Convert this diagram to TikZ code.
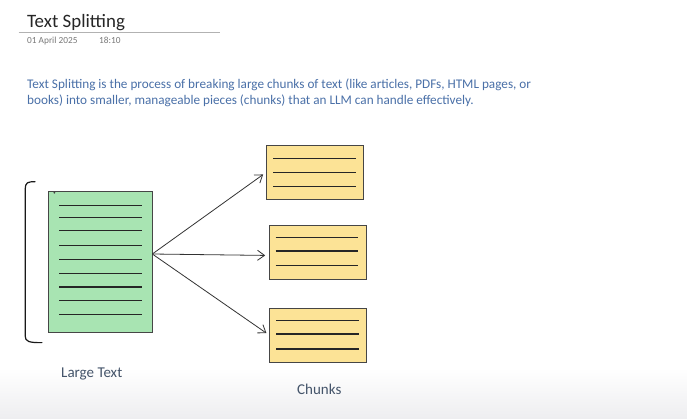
\documentclass[tikz,border=0pt]{standalone}
\usepackage{fontspec}
\setmainfont{Carlito}
\usetikzlibrary{arrows.meta}
\definecolor{paracol}{RGB}{74,112,168}
\definecolor{labcol}{RGB}{68,84,106}
\definecolor{greenfill}{RGB}{168,228,178}
\definecolor{yellowfill}{RGB}{252,227,150}
\definecolor{edgecol}{RGB}{70,70,70}
\definecolor{datecol}{RGB}{120,120,120}
\definecolor{bottomgray}{RGB}{238,238,240}
\tikzset{
  doc/.style={draw=edgecol, line width=0.9pt, fill=greenfill, rectangle, inner sep=0pt, anchor=north west},
  chunk/.style={draw=edgecol, line width=0.9pt, fill=yellowfill, rectangle, inner sep=0pt, anchor=north west, minimum width=97pt, minimum height=54pt},
  textline/.style={line width=1.2pt, draw=black!85},
  splitarrow/.style={line width=0.8pt, draw=black!80, -{Straight Barb[length=7pt,width=10pt,line width=0.8pt]}, shorten >=3.5pt},
  label/.style={text=labcol, font=\fontsize{15}{18}\selectfont, anchor=base west, inner sep=0pt},
}
\begin{document}
\begin{tikzpicture}[x=1pt,y=-1pt]
\useasboundingbox (0,0) rectangle (687,418);
\fill[white] (0,0) rectangle (687,418);
\shade[top color=white, bottom color=bottomgray] (0,368) rectangle (687,418);
% header
\node[anchor=base west, inner sep=0pt, text=black!85, font=\fontsize{18.9}{22}\selectfont] (title) at (27,27) {Text Splitting};
\draw[line width=0.8pt, draw=black!30] (18.5,32.7) -- (220,32.7);
\node[anchor=base west, inner sep=0pt, text=datecol, font=\fontsize{9.3}{11}\selectfont] (date) at (27,43.5) {01 April 2025};
\node[anchor=base west, inner sep=0pt, text=datecol, font=\fontsize{9.3}{11}\selectfont] (time) at (99,43.5) {18:10};
% paragraph (base anchor = last line)
\node[anchor=base west, inner sep=0pt, text=paracol, font=\fontsize{13.2}{16}\selectfont, align=left] (para) at (27,104)
  {Text Splitting is the process of breaking large chunks of text (like articles, PDFs, HTML pages, or\\books) into smaller, manageable pieces (chunks) that an LLM can handle effectively.};
% bracket
\draw[line width=1.2pt, draw=black!90, line cap=round] (35,181.8) .. controls (28,181.5) and (25.2,182.5) .. (25.2,189) -- (25.2,336) .. controls (25.2,341.5) and (29,342.8) .. (42,342.6);
% large text document
\node[doc, minimum width=103.5pt, minimum height=141pt] (big) at (48.3,190.7) {};
\fill[black!75] (54.3,192.7) circle (1pt);
\foreach \yy in {205.7,217.7,230.3,245.3,259.3,273.7,287,300.7,314.7}
  \draw[textline] (59,\yy) -- (142,\yy);
% chunks
\node[chunk] (c1) at (266,145) {};
\node[chunk] (c2) at (268.7,225) {};
\node[chunk] (c3) at (269.3,307.7) {};
\foreach \yy in {158.3,172.3,186.7} \draw[textline] (273.3,\yy) -- (356,\yy);
\foreach \yy in {237.3,251,265.7} \draw[textline] (275.7,\yy) -- (358.3,\yy);
\foreach \yy in {320.7,334,349} \draw[textline] (276,\yy) -- (359,\yy);
% arrows
\coordinate (src) at (152.3,254);
\draw[splitarrow] (src) -- (c1.west);
\draw[splitarrow] (src) -- ([yshift=-3pt]c2.west);
\draw[splitarrow] (src) -- (c3.west);
% labels
\node[label] (lbig) at (61,377) {Large Text};
\node[label] (lchunks) at (297,394) {Chunks};
\end{tikzpicture}
\end{document}
